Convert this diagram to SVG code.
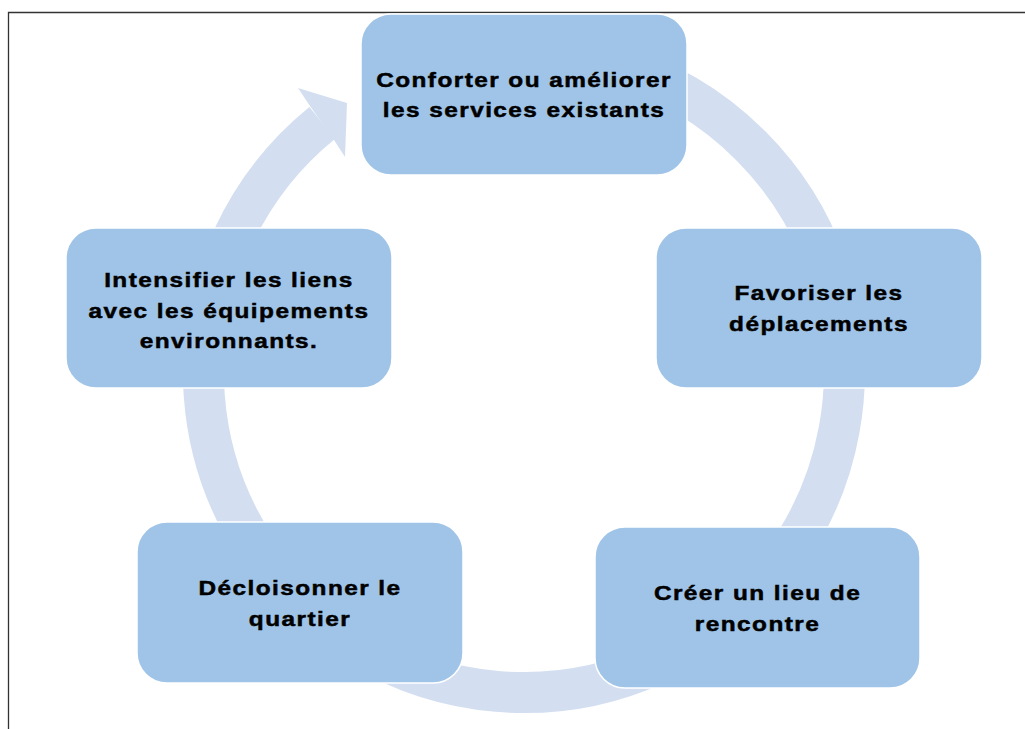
<svg xmlns="http://www.w3.org/2000/svg" width="1025" height="729" viewBox="0 0 1025 729">
<style>
.box{fill:#9FC4E7;stroke:#FFFFFF;stroke-width:1.5}
.ring{fill:none;stroke:#D3DFF0;stroke-width:41}
.head{fill:#D3DFF0}
.t{font-family:"Liberation Sans",Arial,sans-serif;font-weight:bold;font-size:21px;fill:#000;stroke:#000;stroke-width:0.5;text-anchor:middle;letter-spacing:1.25px}
.frame{stroke:#333;stroke-width:1.3;fill:none}
</style>
<rect width="1025" height="729" fill="#FFFFFF"/>
<path class="frame" d="M8.5 729 V12.5 H1025"/>
<g id="connectors">
<path class="ring" d="M468.4 56.4 A320.5 320.5 0 1 1 322.3 122.9"/>
<polygon class="head" points="310,106 298,88 347,103 345,157 334,140"/>
</g>
<g id="node-top">
<rect class="box" x="361" y="14" width="326" height="161" rx="30"/>
<text class="t" transform="translate(524 86.5) scale(1.16 1)">Conforter ou améliorer</text>
<text class="t" transform="translate(524 117) scale(1.16 1)">les services existants</text>
</g>
<g id="node-right">
<rect class="box" x="656" y="228" width="326" height="160" rx="30"/>
<text class="t" transform="translate(819 300) scale(1.16 1)">Favoriser les</text>
<text class="t" transform="translate(819 330.5) scale(1.16 1)">déplacements</text>
</g>
<g id="node-bottom-right">
<rect class="box" x="595" y="527" width="325" height="161" rx="30"/>
<text class="t" transform="translate(757.5 600) scale(1.16 1)">Créer un lieu de</text>
<text class="t" transform="translate(757.5 630.5) scale(1.16 1)">rencontre</text>
</g>
<g id="node-bottom-left">
<rect class="box" x="137" y="522" width="326" height="161" rx="30"/>
<text class="t" transform="translate(300 595) scale(1.16 1)">Décloisonner le</text>
<text class="t" transform="translate(300 625.5) scale(1.16 1)">quartier</text>
</g>
<g id="node-left">
<rect class="box" x="66" y="228" width="326" height="160" rx="30"/>
<text class="t" transform="translate(229 287) scale(1.16 1)">Intensifier les liens</text>
<text class="t" transform="translate(229 317.5) scale(1.16 1)">avec les équipements</text>
<text class="t" transform="translate(229 348) scale(1.16 1)">environnants.</text>
</g>
</svg>
